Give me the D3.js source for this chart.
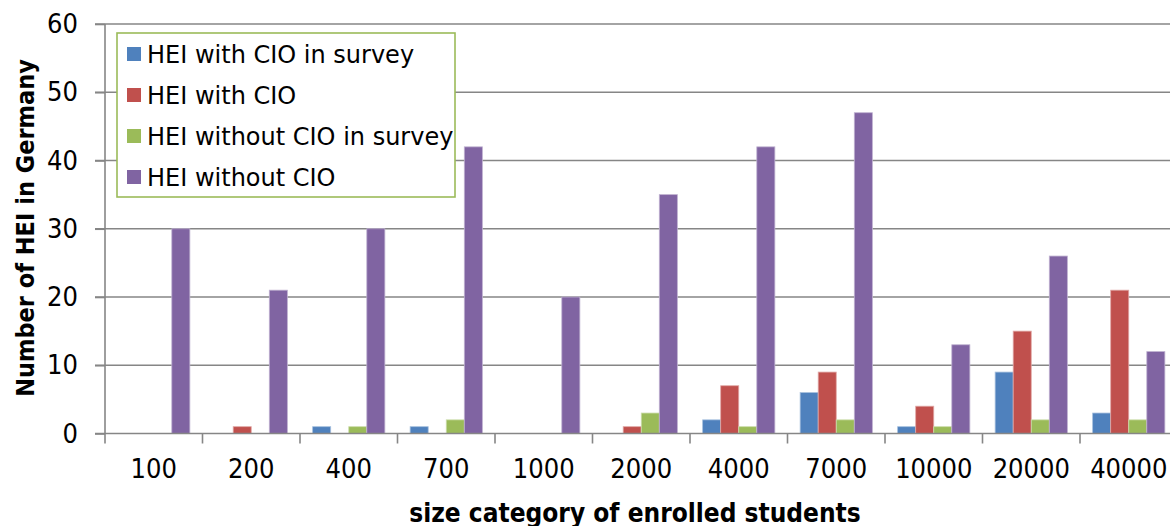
<!DOCTYPE html>
<html>
<head>
<meta charset="utf-8">
<script src="https://cdn.jsdelivr.net/npm/d3@7"></script>
<style>
  html, body { margin: 0; padding: 0; background: #fff; }
  svg { display: block; }
  text { font-family: "DejaVu Sans Condensed", "DejaVu Sans", sans-serif; fill: #000; }
</style>
</head>
<body>
<svg id="chart" width="1170" height="526"></svg>
<script>
// Size categories of enrolled students
const categories = ["100", "200", "400", "700", "1000", "2000", "4000", "7000", "10000", "20000", "40000"];

// Number of higher education institutions per size category
const withCioInSurvey    = [0, 0, 1, 1, 0, 0, 2, 6, 1, 9, 3];
const withCio            = [0, 1, 0, 0, 0, 1, 7, 9, 4, 15, 21];
const withoutCioInSurvey = [0, 0, 1, 2, 0, 3, 1, 2, 1, 2, 2];
const withoutCio         = [30, 21, 30, 42, 20, 35, 42, 47, 13, 26, 12];

const seriesNames  = ["HEI with CIO in survey", "HEI with CIO", "HEI without CIO in survey", "HEI without CIO"];
const seriesValues = [withCioInSurvey, withCio, withoutCioInSurvey, withoutCio];
const seriesColors = ["#4F81BD", "#C0504D", "#9BBB59", "#8064A2"];
const seriesEdges  = ["#A7C0DE", "#E0A8A6", "#CDDDAC", "#BFB1D0"];

const yTicks = [0, 10, 20, 30, 40, 50, 60];

const svg = d3.select("#chart");

const plot = { left: 105, right: 1177.5, top: 24, bottom: 433.5 };

const x = d3.scaleBand()
  .domain(categories)
  .range([plot.left, plot.right])
  .paddingInner(0)
  .paddingOuter(0);

const xSeries = d3.scaleBand()
  .domain(d3.range(seriesNames.length))
  .range([0, x.bandwidth()])
  .paddingInner(0)
  .paddingOuter(0.7);

const y = d3.scaleLinear()
  .domain([0, 60])
  .range([plot.bottom, plot.top]);

// Horizontal gridlines
svg.append("g")
  .selectAll("line")
  .data(yTicks.filter(d => d > 0))
  .join("line")
  .attr("x1", plot.left - 10)
  .attr("x2", 1170)
  .attr("y1", d => y(d))
  .attr("y2", d => y(d))
  .attr("stroke", "#868686")
  .attr("stroke-width", 1.6);

// Bars
const groups = svg.append("g")
  .selectAll("g")
  .data(categories)
  .join("g")
  .attr("transform", d => `translate(${x(d)},0)`);

groups.selectAll("rect")
  .data((c, ci) => seriesValues.map((vals, si) => ({ si, v: vals[ci] })))
  .join("rect")
  .filter(d => d.v > 0)
  .attr("x", d => xSeries(d.si))
  .attr("width", xSeries.bandwidth())
  .attr("y", d => y(d.v))
  .attr("height", d => y(0) - y(d.v))
  .attr("fill", d => seriesColors[d.si])
  .attr("stroke", d => seriesEdges[d.si])
  .attr("stroke-width", 0.8);

// Y axis
const yAxis = svg.append("g")
  .attr("transform", `translate(${plot.left},0)`)
  .call(d3.axisLeft(y).tickValues(yTicks).tickSize(10).tickPadding(17).tickFormat(d3.format("d")));
yAxis.select(".domain").attr("stroke", "#868686").attr("stroke-width", 1.6)
  .attr("d", `M0,${plot.top}V${plot.bottom}`);
yAxis.selectAll(".tick line").attr("stroke", "#868686").attr("stroke-width", 1.6);
yAxis.selectAll(".tick text")
  .attr("font-size", 27)
  .style("font-family", '"DejaVu Sans Condensed", "DejaVu Sans", sans-serif')
  .attr("fill", "#000");

// X axis
const xAxis = svg.append("g")
  .attr("transform", `translate(0,${plot.bottom})`)
  .call(d3.axisBottom(x).tickSize(0).tickPadding(25));
xAxis.select(".domain").attr("stroke", "#868686").attr("stroke-width", 1.6)
  .attr("d", `M${plot.left - 10},0H1170`);
xAxis.selectAll(".tick text")
  .attr("font-size", 27)
  .style("font-family", '"DejaVu Sans Condensed", "DejaVu Sans", sans-serif')
  .attr("fill", "#000");

// Category separator ticks
svg.append("g")
  .selectAll("line")
  .data(categories.concat(["end"]))
  .join("line")
  .attr("x1", (d, i) => plot.left + i * x.step())
  .attr("x2", (d, i) => plot.left + i * x.step())
  .attr("y1", plot.bottom)
  .attr("y2", plot.bottom + 10)
  .attr("stroke", "#868686")
  .attr("stroke-width", 1.6);

// Axis titles
svg.append("text")
  .attr("transform", "translate(34,228) rotate(-90)")
  .attr("text-anchor", "middle")
  .attr("font-size", 25)
  .attr("font-weight", "bold")
  .text("Number of HEI in Germany");

svg.append("text")
  .attr("x", 635)
  .attr("y", 522)
  .attr("text-anchor", "middle")
  .attr("font-size", 26)
  .attr("font-weight", "bold")
  .text("size category of enrolled students");

// Legend
const legend = svg.append("g").attr("transform", "translate(117,33)");
legend.append("rect")
  .attr("width", 338)
  .attr("height", 164)
  .attr("fill", "#fff")
  .attr("stroke", "#9BBB59")
  .attr("stroke-width", 1.6);

const items = legend.selectAll("g.item")
  .data(seriesNames)
  .join("g")
  .attr("class", "item")
  .attr("transform", (d, i) => `translate(10,${21 + i * 41})`);

items.append("rect")
  .attr("x", 0)
  .attr("y", -7)
  .attr("width", 14)
  .attr("height", 14)
  .attr("fill", (d, i) => seriesColors[i]);

items.append("text")
  .attr("x", 20)
  .attr("y", 0)
  .attr("dy", "0.36em")
  .attr("font-size", 24)
  .style("font-family", '"DejaVu Sans", sans-serif')
  .text(d => d);
</script>
</body>
</html>
